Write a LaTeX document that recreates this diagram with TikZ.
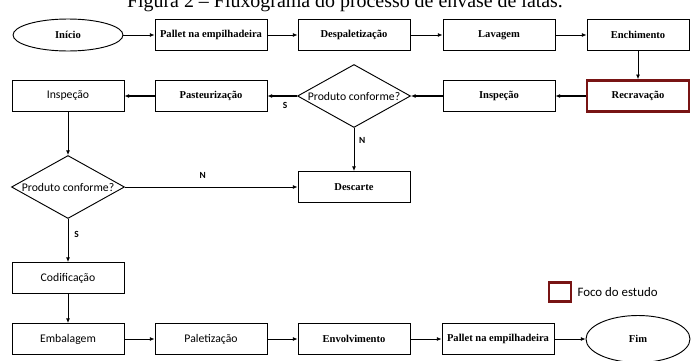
\documentclass[tikz,border=0pt]{standalone}
\usepackage{fontspec}
\setmainfont{Liberation Serif}
\newfontfamily\labelsans{Carlito}
\usepackage{xcolor}
\usetikzlibrary{shapes.geometric, arrows.meta, positioning}
\definecolor{focusred}{RGB}{120,20,20}

\begin{document}
\begin{tikzpicture}[x=0.03cm, y=-0.03cm,
    >={Latex[length=4pt, width=3.5pt]},
    serif/.style={font=\bfseries\fontsize{9}{10}\selectfont},
    sans/.style={font=\labelsans\fontsize{10}{11}\selectfont},
    box/.style={draw, line width=0.8pt, minimum width=3.36cm, minimum height=0.93cm, inner sep=1pt},
    endbox/.style={box, minimum width=3.06cm},
    focus/.style={draw=focusred, line width=2.2pt},
    terminal/.style={draw, ellipse, line width=0.8pt, inner sep=0pt, serif},
    decision/.style={draw, diamond, aspect=1.8, line width=0.8pt, minimum width=3.39cm, minimum height=1.89cm, inner sep=0pt, sans},
    flow/.style={->, line width=0.7pt},
    lbl/.style={font=\labelsans\bfseries\fontsize{8}{9}\selectfont, inner sep=1pt}]
    \useasboundingbox (0,0) rectangle (691,361);
    \node[font=\fontsize{17}{20}\selectfont, anchor=base] (caption) at (345,7) {Figura 2 – Fluxograma do processo de envase de latas.};
    % primeira linha
    \node[terminal, minimum width=3.3cm, minimum height=0.96cm] (inicio) at (68,35) {Início};
    \node[box, serif] (pallet1) at (211,35) {Pallet na empilhadeira};
    \node[box, serif] (despal) at (354,35) {Despaletização};
    \node[box, serif] (lavagem) at (499,35) {Lavagem};
    \node[endbox, serif] (enchim) at (638,35) {Enchimento};
    % segunda linha
    \node[endbox, serif, focus] (recrav) at (638,96) {Recravação};
    \node[box, serif] (inspec2) at (499,96) {Inspeção};
    \node[decision] (conf1) at (354,96) {Produto conforme?};
    \node[box, serif] (pasteur) at (211,96) {Pasteurização};
    \node[box, sans] (inspec1) at (68,96) {Inspeção};
    % meio
    \node[decision] (conf2) at (68,187) {Produto conforme?};
    \node[box, serif] (descarte) at (354,187) {Descarte};
    \node[box, sans] (codif) at (68,278) {Codificação};
    % ultima linha
    \node[box, sans] (embal) at (68,339) {Embalagem};
    \node[box, sans] (paletiz) at (211,339) {Paletização};
    \node[box, serif] (envolv) at (354,339) {Envolvimento};
    \node[box, serif] (pallet2) at (498,339) {Pallet na empilhadeira};
    \node[terminal, minimum width=3.12cm, minimum height=1.41cm] (fim) at (638,339) {Fim};
    % legenda
    \node[focus, minimum width=0.66cm, minimum height=0.58cm, inner sep=0pt] (legbox) at (560,292) {};
    \node[sans, font=\labelsans\fontsize{11}{12}\selectfont, right=1pt of legbox] (legtext) {Foco do estudo};
    % conexoes
    \draw[flow] (inicio) -- (pallet1);
    \draw[flow] (pallet1) -- (despal);
    \draw[flow] (despal) -- (lavagem);
    \draw[flow] (lavagem) -- (enchim);
    \draw[flow] (enchim) -- (recrav);
    \draw[flow, line width=1pt] (recrav) -- (inspec2);
    \draw[flow, line width=1pt] (inspec2) -- (conf1);
    \draw[flow, line width=1pt] (conf1) -- node[lbl, below=4pt, pos=0.4] {S} (pasteur);
    \draw[flow, line width=1pt] (pasteur) -- (inspec1);
    \draw[flow] (inspec1) -- (conf2);
    \draw[flow] (conf1) -- node[lbl, right=3pt, pos=0.3] {N} (descarte);
    \draw[flow] (conf2) -- node[lbl, above=6pt, pos=0.45] {N} (descarte);
    \draw[flow] (conf2) -- node[lbl, right=4pt, pos=0.35] {S} (codif);
    \draw[flow] (codif) -- (embal);
    \draw[flow] (embal) -- (paletiz);
    \draw[flow] (paletiz) -- (envolv);
    \draw[flow] (envolv) -- (pallet2);
    \draw[flow] (pallet2) -- (fim);
\end{tikzpicture}
\end{document}
